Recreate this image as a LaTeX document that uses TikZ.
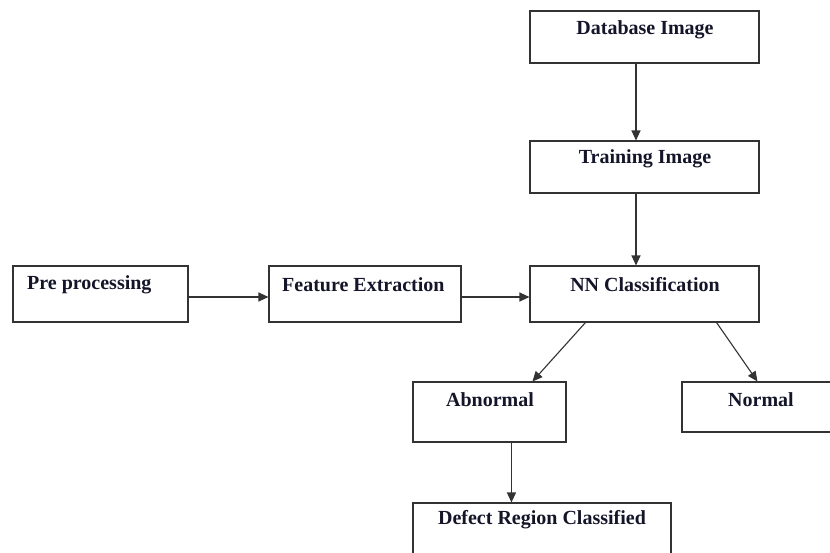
\documentclass[tikz,border=0pt]{standalone}
\usepackage{fontspec}
\setmainfont{Liberation Serif}
\usetikzlibrary{arrows.meta}
\definecolor{boxline}{HTML}{333333}
\definecolor{txt}{HTML}{15152A}
\tikzset{
  box/.style={draw=boxline, line width=1.1pt, rectangle, inner sep=0pt},
  lbl/.style={text=txt, font=\fontsize{20}{22}\selectfont\bfseries, inner sep=0pt},
  arr/.style={draw=black!80, line width=1.1pt, -{Triangle[length=10pt,width=9pt]}}
}
\begin{document}
\begin{tikzpicture}[x=1pt,y=-1pt]
\useasboundingbox (0,0) rectangle (830,552);
\clip (0,0) rectangle (830,552);
\fill[white] (0,0) rectangle (830,552);
% boxes
\node[box, minimum width=229pt, minimum height=52pt] (db) at (644.5,37) {};
\node[box, minimum width=229pt, minimum height=52pt] (tr) at (644.5,167) {};
\node[box, minimum width=229pt, minimum height=56pt] (nn) at (644.5,294) {};
\node[box, minimum width=175pt, minimum height=56pt] (pre) at (100.5,294) {};
\node[box, minimum width=192pt, minimum height=56pt] (fe) at (365,294) {};
\node[box, minimum width=153pt, minimum height=60pt] (ab) at (489.5,412) {};
\node[box, minimum width=158pt, minimum height=50pt] (no) at (761,407) {};
\node[box, minimum width=258pt, minimum height=60pt] (de) at (542,533) {};
% texts
\node[lbl] (tdb) at (645,30) {Database Image};
\node[lbl] (ttr) at (645,159) {Training Image};
\node[lbl] (tnn) at (645,285) {NN Classification};
\node[lbl, anchor=west] (tpre) at (27,285) {Pre processing};
\node[lbl, anchor=west] (tfe) at (282,285) {Feature Extraction};
\node[lbl] (tab) at (490,400) {Abnormal};
\node[lbl] (tno) at (761,400) {Normal};
\node[lbl] (tde) at (542,520) {Defect Region Classified};
% connectors
\draw[arr] ([xshift=-8.5pt]db.south) -- ([xshift=-8.5pt]tr.north);
\draw[arr] ([xshift=-8.5pt]tr.south) -- ([xshift=-8.5pt]nn.north);
\draw[arr] ([yshift=-3pt]pre.east) -- ([yshift=-3pt]fe.west);
\draw[arr] ([yshift=-3pt]fe.east) -- ([yshift=-3pt]nn.west);
\draw[arr] ([xshift=56pt]nn.south west) -- ([xshift=120pt]ab.north west);
\draw[arr] ([xshift=-43pt]nn.south east) -- ([xshift=76pt]no.north west);
\draw[arr] ([xshift=99pt]ab.south west) -- ([xshift=99pt]de.north west);
\end{tikzpicture}
\end{document}
